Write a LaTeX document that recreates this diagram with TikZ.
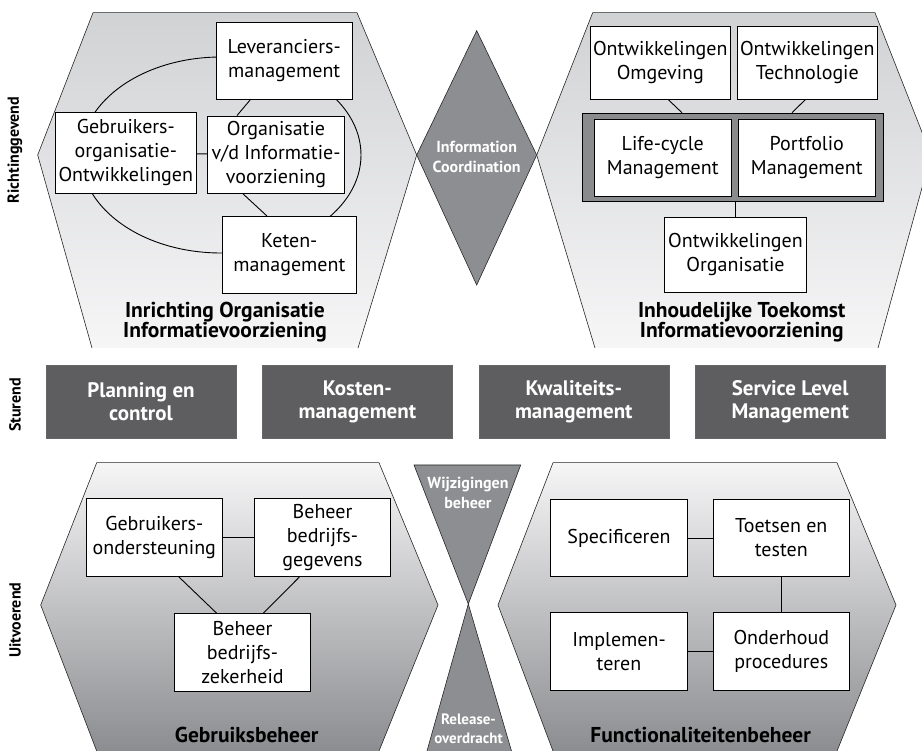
\documentclass[tikz,border=0pt]{standalone}
\usepackage{fontspec}
\setmainfont{PT Sans}
\usetikzlibrary{positioning,calc}
\definecolor{hexlicht}{HTML}{F6F6F7}
\definecolor{hexgrijs}{HTML}{D1D2D4}
\definecolor{hexdonker}{HTML}{8C8D90}
\definecolor{ruit}{HTML}{8D8E91}
\definecolor{stuurgrijs}{HTML}{5E5E60}
\definecolor{kadergrijs}{HTML}{8A8B8D}
\tikzset{
  hexrand/.style={draw=black!85, line width=0.6pt},
  hexboven/.style={hexrand, top color=hexgrijs, bottom color=hexlicht},
  hexonder/.style={hexrand, top color=hexlicht, bottom color=hexdonker},
  blok/.style={draw, fill=white, line width=0.8pt, minimum width=136.5pt, minimum height=77.5pt, inner sep=1pt, align=center, font=\fontsize{20}{24}\selectfont},
  stuur/.style={draw=black!60, fill=stuurgrijs, minimum width=190pt, minimum height=73pt, align=center, text=white, font=\fontsize{21}{23}\selectfont\bfseries},
  titel/.style={align=center, font=\fontsize{21.5}{20.5}\selectfont\bfseries},
  wit/.style={align=center, text=white, font=\fontsize{16}{19.5}\selectfont\bfseries},
  zij/.style={rotate=90, font=\fontsize{16}{18}\selectfont\bfseries},
  lijn/.style={line width=0.9pt}}
\begin{document}
\begin{tikzpicture}[x=1pt, y=-1pt, node distance=26pt]
\useasboundingbox (0,0) rectangle (922,751);
\draw[hexboven] (92,348) -- (37.7,155) -- (93,12.7) -- (357,12.7) -- (416.7,155) -- (358,348);
\draw[hexboven] (595,348) -- (536.7,155) -- (592.7,12.7) -- (875,12.7) -- (931,155) -- (878,348);
\draw[hexonder] (96.7,751) -- (40.7,605) -- (96.7,462.7) -- (379,462.7) -- (438,605) -- (379,751);
\draw[hexonder] (553,751) -- (498,605) -- (553,462.7) -- (837,462.7) -- (896,605) -- (837,751);
\draw[hexrand, fill=ruit] (476.7,30.7) -- (536.7,155) -- (476.7,285) -- (416.7,155) -- cycle;
\draw[hexrand, fill=ruit] (414,465) -- (520.7,465) -- (468.3,604) -- cycle;
\draw[hexrand, fill=ruit] (427,751) -- (468.3,604) -- (511.5,751);
\node[wit] (infoco) at (476.7,157) {Information\\Coordination};
\node[wit] (wijz) at (468,493) {Wijzigingen\\beheer};
\node[wit, font=\fontsize{15}{19}\selectfont\bfseries] (rel) at (468.5,729) {Release-\\overdracht};

\node[zij] (richt) at (15,150) {Richtinggevend};
\node[zij] (stur) at (15,405) {Sturend};
\node[zij] (uitv) at (15,620) {Uitvoerend};

\draw[lijn] (221,155) ellipse [x radius=140, y radius=98];
\node[blok] (lev) at (284.2,60.7) {Leveranciers-\\management};
\node[blok, minimum width=140.5pt, minimum height=80.5pt] (geb) at (125.8,153) {Gebruikers-\\organisatie-\\Ontwikkelingen};
\node[blok] (org) at (276,154.7) {Organisatie\\v/d Informatie-\\voorziening};
\node[blok, minimum width=133.5pt] (ket) at (289.3,255) {Keten-\\management};
\draw[lijn] ([xshift=-34pt]lev.south) -- ([xshift=-39pt]org.north);
\draw[lijn] (geb) -- (org);
\draw[lijn] ([xshift=-33pt]org.south) -- ([xshift=-22.5pt]ket.north);
\node[titel] (inr) at (225,322) {Inrichting Organisatie\\Informatievoorziening};

\node[blok, minimum width=140.5pt, minimum height=72.5pt] (omg) at (660.3,63) {Ontwikkelingen\\Omgeving};
\node[blok, minimum width=140pt, minimum height=72.5pt] (tec) at (807.3,63) {Ontwikkelingen\\Technologie};
\node[draw, line width=1pt, fill=kadergrijs, minimum width=300.5pt, minimum height=88.5pt] (kader) at (733,157.5) {};
\node[blok, minimum height=76.5pt] (lcm) at (662.8,157.7) {Life-cycle\\Management};
\node[blok, minimum height=76.5pt] (pfm) at (806.8,157.7) {Portfolio\\Management};
\node[blok, minimum width=142.5pt, minimum height=75.5pt] (oor) at (735.5,255) {Ontwikkelingen\\Organisatie};
\draw[lijn] ([xshift=8pt]omg.south) -- ([xshift=-51pt]kader.north);
\draw[lijn] ([xshift=-2pt]tec.south) -- ([xshift=59pt]kader.north);
\draw[lijn] (oor.north|-kader.south) -- (oor.north);
\node[titel] (inh) at (741.7,322) {Inhoudelijke Toekomst\\Informatievoorziening};

\node[stuur] (plan) at (141,401.5) {Planning en\\control};
\node[stuur, right=of plan] (kost) {Kosten-\\management};
\node[stuur, right=of kost] (kwal) {Kwaliteits-\\management};
\node[stuur, right=of kwal] (slm) {Service Level\\Management};

\node[blok] (gon) at (154.3,537.2) {Gebruikers-\\ondersteuning};
\node[blok] (bbg) at (322.5,537.2) {Beheer\\bedrijfs-\\gegevens};
\node[blok] (bbz) at (242.5,652.2) {Beheer\\bedrijfs-\\zekerheid};
\draw[lijn] (gon) -- (bbg);
\draw[lijn] ([xshift=24pt]gon.south) -- ([xshift=-26pt]bbz.north);
\draw[lijn] ([xshift=-22.5pt]bbg.south) -- ([xshift=21pt]bbz.north);
\node[titel] (gbb) at (246.7,735) {Gebruiksbeheer};

\node[blok] (spe) at (619,538) {Specificeren};
\node[blok] (toe) at (781.3,538) {Toetsen en\\testen};
\node[blok] (imp) at (619,651.4) {Implemen-\\teren};
\node[blok] (ond) at (781.3,651.4) {Onderhoud\\procedures};
\draw[lijn] (spe) -- (toe);
\draw[lijn] (toe) -- (ond);
\draw[lijn] (imp) -- (ond);
\node[titel] (fub) at (700.7,735) {Functionaliteitenbeheer};
\end{tikzpicture}
\end{document}
